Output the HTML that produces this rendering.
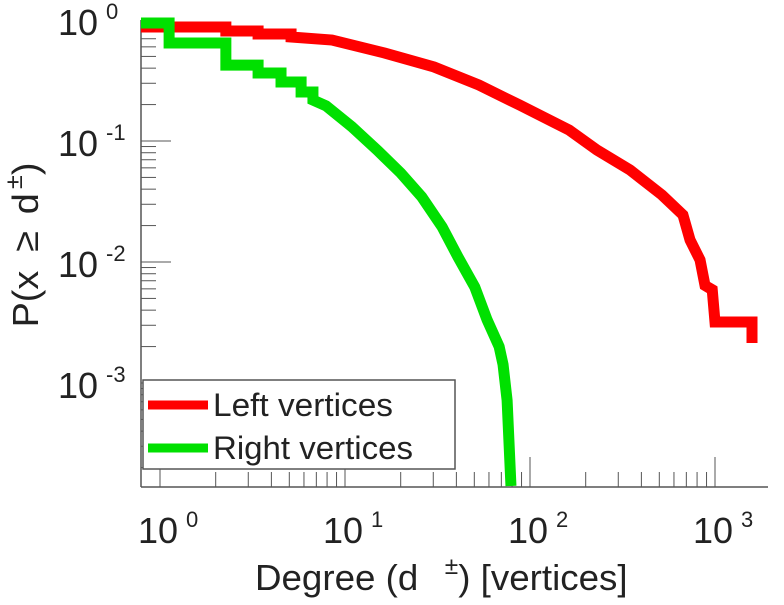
<!DOCTYPE html>
<html><head><meta charset="utf-8"><style>
body{margin:0;background:#fff;}
svg text{font-family:"Liberation Sans",sans-serif;fill:#222;}
</style></head><body>
<svg id="chart" width="784" height="600">
<g id="axes"></g><g id="series"></g>
<g>
<rect x="143" y="380" width="312" height="89" fill="#fff" stroke="#555" stroke-width="1.5"/>
<line x1="148" y1="405" x2="208" y2="405" stroke="#ff0000" stroke-width="9"/>
<text x="213" y="416" font-size="32" textLength="180" lengthAdjust="spacingAndGlyphs">Left vertices</text>
<line x1="148" y1="448" x2="208" y2="448" stroke="#00e000" stroke-width="9"/>
<text x="213" y="459" font-size="32" textLength="200" lengthAdjust="spacingAndGlyphs">Right vertices</text>
</g>
<text transform="translate(255,590) scale(1.02,1)" font-size="36">Degree (d <tspan dx="16" dy="-16" font-size="24">±</tspan><tspan dy="16">) [vertices]</tspan></text>
<text transform="translate(38,245) rotate(-90) scale(1.05,1)" font-size="36" text-anchor="middle">P(x <tspan dx="8">≥</tspan> <tspan dx="6">d</tspan><tspan dx="4" dy="-16" font-size="24">±</tspan><tspan dy="16">)</tspan></text>
</svg>
<script>
const leftX=[0.78,2.27,2.27,3.39,3.39,5.11,5.11,8.51,16.4,30.3,53,88,163,230,347,517,671,733,830,883,966,1000,1585,1585];
const leftY=[0.875,0.875,0.811,0.811,0.766,0.766,0.724,0.683,0.533,0.409,0.290,0.198,0.123,0.0843,0.0577,0.0358,0.0245,0.0152,0.0104,0.0064,0.0059,0.00319,0.00319,0.00214];
const rightX=[0.78,1.12,1.12,2.27,2.27,3.39,3.39,4.51,4.51,5.79,5.79,6.71,6.71,7.90,10.9,14.9,20.0,26.0,33.5,40.8,50.3,58.6,68.1,71.5,75.2,78.9];
const rightY=[0.944,0.944,0.645,0.645,0.424,0.424,0.365,0.365,0.307,0.307,0.254,0.254,0.218,0.195,0.131,0.0843,0.0544,0.0345,0.0195,0.011,0.0062,0.00333,0.002,0.00142,0.00072,0.000141];
const xTickExp=[0,1,2,3];
const yTickExp=[0,-1,-2,-3];
const L=141,R=768,T=20,B=487;
function sx(v){return 160+Math.log10(v)*185;}
function sy(v){return 20-Math.log10(v)*121;}
const NS="http://www.w3.org/2000/svg";
function mk(t,a,p){const e=document.createElementNS(NS,t);for(const k in a)e.setAttribute(k,a[k]);p.appendChild(e);return e;}
const ax=document.getElementById('axes');
const xl=mk('line',{x1:L,y1:B,x2:R,y2:B,stroke:'#555','stroke-width':1.5},ax);


const yl=mk('line',{x1:L,y1:T,x2:L,y2:B,stroke:'#555','stroke-width':1.5},ax);


for(const e of xTickExp){
 for(let m=1;m<10;m++){const px=sx(m*Math.pow(10,e));if(px<L||px>R)continue;
  mk('line',{x1:px,y1:B,x2:px,y2:B-(m==1?30:15),stroke:'#555','stroke-width':1},ax);}
 const t=mk('text',{x:sx(Math.pow(10,e))-22,y:543,'font-size':36},ax);
 
 
 t.innerHTML='10<tspan dy="-16" dx="8" font-size="22">'+e+'</tspan>';
}
for(const e of yTickExp){
 for(let m=1;m<10;m++){const py=sy(m*Math.pow(10,e-1));if(py<T||py>B)continue;
  mk('line',{x1:L,y1:py,x2:L+(m==1?30:15),y2:py,stroke:'#555','stroke-width':1},ax);}
 const py=sy(Math.pow(10,e));
 mk('line',{x1:L,y1:py,x2:L+30,y2:py,stroke:'#555','stroke-width':1},ax);
 const t=mk('text',{x:58,y:py+15,'font-size':36},ax);
 
 
 t.innerHTML='10<tspan dy="-16" dx="8" font-size="22">'+e+'</tspan>';
}
const sg=document.getElementById('series');
function draw(xs,ys,col,name){
 let pts=[];
 for(let i=0;i<xs.length;i++){pts.push(Math.max(L,sx(xs[i]))+','+sy(ys[i]));}
 const p=mk('polyline',{points:pts.join(' '),fill:'none',stroke:col,'stroke-width':11,'stroke-linejoin':'miter'},sg);
 
 
}
draw(leftX,leftY,'#ff0000','left-vertices-line');
draw(rightX,rightY,'#00e000','right-vertices-line');
</script>
</body></html>
